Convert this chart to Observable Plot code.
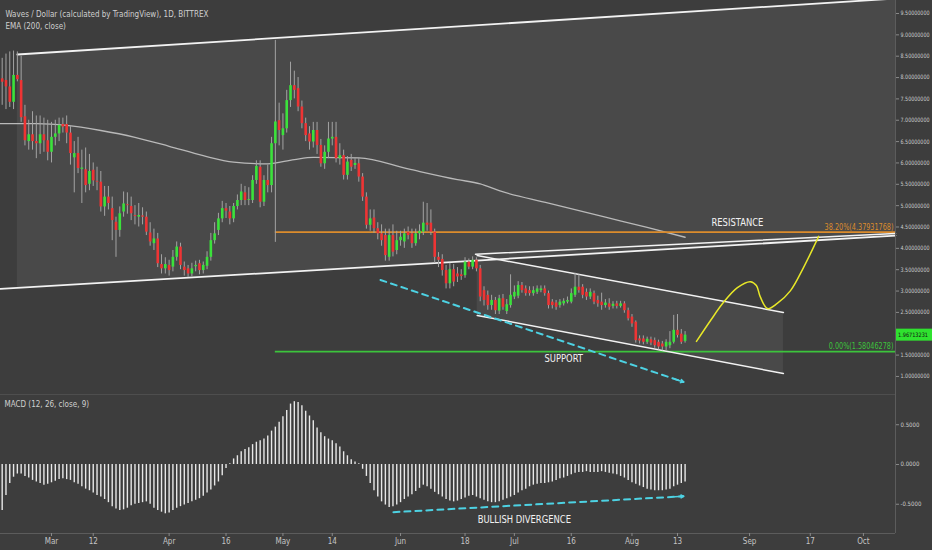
<!DOCTYPE html>
<html><head><meta charset="utf-8">
<script src="https://cdn.jsdelivr.net/npm/d3@7"></script>
<script src="https://cdn.jsdelivr.net/npm/@observablehq/plot@0.6"></script>
<style>
html,body{margin:0;padding:0;background:#3d3d3d;}
#chart{width:932px;height:550px;overflow:hidden;}
#chart svg{display:block;}
</style></head><body><div id="chart"></div>
<script>
// ---------- data ----------
const startDate = "2018-02-16";
const open = [7.97,7.93,7.78,7.42,8.05,7.93,7.08,6.50,6.66,6.50,6.45,6.66,6.52,
 6.25,6.60,6.68,6.90,6.90,6.70,6.12,6.22,5.85,5.84,5.50,5.83,5.57,5.55,4.97,5.20,4.93,4.61,4.42,4.85,5.02,4.98,4.77,4.73,4.76,4.73,4.36,4.11,4.22,3.62,3.52,
 3.60,3.56,3.79,4.03,3.56,3.52,3.40,3.57,3.64,3.48,3.58,3.79,4.18,4.42,4.69,4.93,4.85,4.69,4.98,5.12,5.30,5.12,5.12,5.59,5.90,5.08,5.59,5.47,6.45,6.99,
 6.64,6.80,7.46,7.81,7.74,7.31,6.92,6.68,6.49,6.76,6.41,5.98,6.25,6.56,6.60,6.10,6.17,5.71,6.06,5.94,5.98,5.67,5.20,4.54,4.71,4.46,4.34,4.30,3.79,4.30,3.95,
 4.18,4.15,4.38,4.34,4.11,4.34,4.38,4.59,4.59,4.38,3.79,3.74,3.48,3.17,3.50,3.40,3.38,3.36,3.68,3.56,3.72,3.52,3.01,2.90,2.66,2.78,2.53,2.82,2.52,2.66,
 2.86,2.88,3.13,3.05,3.01,2.94,2.97,3.01,3.05,2.94,2.74,2.72,2.66,2.70,2.74,2.74,2.90,3.09,3.09,2.97,2.86,2.94,2.78,2.74,2.66,2.70,2.64,2.70,2.64,2.70,2.54,
 2.39,2.27,1.88,1.88,1.80,1.86,1.84,1.80,1.76,1.69,1.72,1.80,2.08,1.99,1.82];
const high = [8.45,8.55,8.60,8.62,8.60,8.50,7.35,7.00,7.20,7.10,7.10,7.05,7.00,
 6.95,7.00,7.05,7.05,7.10,6.85,6.50,6.60,6.30,6.35,6.20,6.00,5.90,5.80,5.45,5.45,5.20,4.73,4.97,5.32,5.30,5.20,5.00,5.05,4.95,4.85,4.60,4.45,4.35,3.85,3.78,
 3.72,3.95,4.15,4.12,3.68,3.60,3.65,3.70,3.72,3.68,3.92,4.35,4.60,4.82,5.10,5.05,4.98,5.05,5.25,5.50,5.45,5.42,5.70,6.05,6.05,5.70,5.95,6.60,8.87,7.40,
 7.15,7.70,8.36,8.15,8.00,7.45,7.05,6.85,6.95,6.95,6.55,6.40,6.95,6.95,6.95,6.45,6.30,6.15,6.20,6.10,6.10,5.75,5.30,4.90,4.90,4.60,4.55,4.45,4.45,4.55,4.40,
 4.40,4.45,4.50,4.45,4.45,4.55,5.08,5.05,4.90,4.45,3.90,3.85,3.60,3.65,3.62,3.55,3.50,3.78,3.75,3.80,3.78,3.60,3.10,3.00,2.90,2.85,2.90,2.92,2.80,3.38,
 3.12,3.22,3.20,3.12,3.10,3.10,3.12,3.12,3.12,3.00,2.80,2.78,2.80,2.82,2.86,3.05,3.42,3.38,3.15,3.05,3.05,3.00,2.88,2.95,2.80,2.82,2.75,2.76,2.76,2.75,2.60,
 2.45,2.30,1.95,1.95,1.92,1.92,1.90,1.85,1.82,1.86,2.05,2.43,2.45,2.10,2.05];
const low = [7.35,7.25,7.30,7.25,7.90,6.95,6.40,6.30,6.30,6.10,6.20,6.25,6.05,
 6.00,6.40,6.50,6.70,6.45,5.95,5.30,5.75,5.05,5.30,5.35,5.45,5.35,4.85,4.75,4.90,4.18,3.79,4.26,4.73,4.80,4.65,4.55,4.50,4.55,4.30,4.05,3.95,3.55,3.40,3.40,
 3.35,3.45,3.70,3.50,3.35,3.32,3.33,3.45,3.38,3.40,3.50,3.70,4.10,4.30,4.60,4.70,4.55,4.60,4.90,5.00,5.00,5.00,5.05,5.50,4.95,4.98,5.30,5.30,4.14,6.40,
 6.30,6.70,7.30,7.50,7.20,6.80,6.50,6.30,6.35,6.20,5.90,5.85,6.10,6.40,6.00,5.95,5.60,5.60,5.80,5.85,5.55,5.10,4.45,4.40,4.35,4.20,4.05,3.70,3.70,3.80,3.85,
 4.05,4.00,4.20,4.00,4.05,4.20,4.30,4.40,4.30,3.65,3.55,3.35,3.05,3.05,3.10,3.20,3.25,3.30,3.50,3.50,3.45,2.75,2.65,2.55,2.55,2.45,2.45,2.55,2.45,2.60,
 2.80,2.82,2.95,2.88,2.88,2.88,2.92,2.96,2.88,2.58,2.58,2.55,2.60,2.65,2.70,2.70,2.85,2.95,2.82,2.78,2.80,2.68,2.62,2.55,2.60,2.55,2.58,2.58,2.60,2.48,2.30,
 2.15,1.78,1.76,1.74,1.75,1.72,1.66,1.62,1.60,1.60,1.65,1.76,1.90,1.75,1.78];
const close = [7.89,7.78,7.42,8.05,7.95,7.06,6.52,6.66,6.50,6.45,6.66,6.52,6.25,
 6.60,6.68,6.88,6.84,6.70,6.22,6.22,5.87,5.88,5.47,5.80,5.58,5.55,4.97,5.20,5.05,4.65,4.42,4.81,5.04,5.00,4.81,4.75,4.77,4.73,4.38,4.15,4.22,3.64,3.52,3.62,
 3.48,3.79,4.03,3.60,3.48,3.40,3.52,3.60,3.48,3.60,3.79,4.18,4.34,4.69,4.93,4.87,4.69,4.98,5.12,5.32,5.12,5.14,5.59,5.92,5.08,5.59,5.47,6.45,6.96,6.76,
 6.80,7.46,7.81,7.70,7.31,6.92,6.64,6.49,6.76,6.41,5.98,6.25,6.56,6.60,6.10,6.17,5.71,6.02,5.90,5.99,5.67,5.20,4.54,4.69,4.46,4.34,4.18,3.83,4.30,3.91,4.18,
 4.26,4.34,4.30,4.11,4.34,4.40,4.59,4.54,4.38,3.79,3.72,3.48,3.17,3.50,3.21,3.33,3.34,3.68,3.56,3.72,3.52,2.86,2.78,2.66,2.78,2.54,2.82,2.62,2.68,2.90,
 2.97,3.13,3.01,2.94,2.94,3.01,3.05,3.05,2.94,2.66,2.66,2.62,2.74,2.76,2.78,2.94,3.09,3.01,2.90,2.86,2.97,2.74,2.70,2.66,2.72,2.62,2.69,2.64,2.70,2.54,2.35,
 2.23,1.84,1.83,1.80,1.87,1.78,1.72,1.69,1.69,1.80,1.80,2.08,1.96,1.80,1.96713231];
const lastPriceLabel = "1.96713231";

const macdHist = [-0.58,-0.39,-0.24,-0.16,-0.12,-0.12,-0.15,-0.17,-0.20,-0.22,-0.24,-0.26,-0.25,-0.23,-0.21,-0.19,-0.18,-0.19,-0.20,-0.23,
 -0.25,-0.28,-0.31,-0.33,-0.36,-0.39,-0.41,-0.44,-0.48,-0.53,-0.56,-0.58,-0.57,-0.55,-0.52,-0.50,-0.49,-0.48,-0.47,-0.50,
 -0.55,-0.58,-0.60,-0.62,-0.61,-0.58,-0.55,-0.53,-0.51,-0.49,-0.47,-0.45,-0.43,-0.40,-0.36,-0.32,-0.27,-0.22,-0.14,-0.05,
 0.01,0.07,0.11,0.16,0.19,0.21,0.25,0.28,0.30,0.32,0.36,0.42,0.47,0.53,0.60,0.68,0.76,0.79,0.78,0.74,
 0.67,0.61,0.55,0.46,0.40,0.35,0.32,0.30,0.26,0.22,0.16,0.11,0.06,0.03,0.01,-0.06,-0.15,-0.24,-0.33,-0.41,
 -0.47,-0.51,-0.54,-0.53,-0.51,-0.48,-0.44,-0.41,-0.38,-0.34,-0.30,-0.26,-0.28,-0.31,-0.35,-0.38,-0.41,-0.44,-0.46,-0.47,
 -0.46,-0.44,-0.42,-0.40,-0.39,-0.41,-0.43,-0.45,-0.47,-0.48,-0.48,-0.47,-0.45,-0.43,-0.41,-0.39,-0.36,-0.33,-0.31,-0.28,
 -0.26,-0.25,-0.24,-0.24,-0.23,-0.22,-0.20,-0.18,-0.17,-0.15,-0.13,-0.11,-0.10,-0.10,-0.09,-0.10,-0.10,-0.10,-0.09,-0.10,
 -0.11,-0.12,-0.13,-0.15,-0.17,-0.20,-0.23,-0.25,-0.27,-0.29,-0.31,-0.32,-0.33,-0.33,-0.33,-0.32,-0.31,-0.28,-0.26,-0.24,-0.22];

const emaDates = ["2018-02-15","2018-02-25","2018-03-05","2018-03-14","2018-03-23","2018-04-01","2018-04-10","2018-04-18","2018-04-27","2018-05-04","2018-05-09","2018-05-21","2018-06-03","2018-06-16","2018-06-22","2018-06-27","2018-07-10","2018-07-25","2018-08-05","2018-08-15"];
const emaValues = [6.92,6.92,6.88,6.76,6.60,6.39,6.17,6.02,5.98,6.08,6.13,6.12,5.86,5.61,5.51,5.35,5.06,4.73,4.49,4.26];

const priceTicks = [1.0,1.5,2.5,3.0,3.5,4.0,4.5,5.0,5.5,6.0,6.5,7.0,7.5,8.0,8.5,9.0,9.5];
const macdTicks = [-0.5,0,0.5];
const timeTicks = ["2018-03-01","2018-03-12","2018-04-01","2018-04-16","2018-05-01","2018-05-14","2018-06-01","2018-06-18","2018-07-01","2018-07-16","2018-08-01","2018-08-13","2018-09-01","2018-09-17","2018-10-01"];
const timeLabels = ["Mar","12","Apr","16","May","14","Jun","18","Jul","16","Aug","13","Sep","17","Oct"];

const channelTop = [{date:"2018-02-20",price:8.54},{date:"2018-10-09T11:00",price:9.85}];
const channelBottom = [{date:"2018-02-15T13:23",price:3.05},{date:"2018-10-09T11:00",price:4.30}];
const channelInner = [{date:"2018-06-20T18:00",price:3.86},{date:"2018-10-09T11:00",price:4.35}];
const channelFill = [{date:"2018-02-20",lower:3.07,upper:8.54},{date:"2018-10-09T11:00",lower:4.30,upper:9.85}];
const descUpper = [{date:"2018-06-21T05:00",price:3.83},{date:"2018-09-09T22:00",price:2.50}];
const descLower = [{date:"2018-06-21T05:00",price:2.43},{date:"2018-09-09T22:00",price:1.07}];
const descFill = [{date:"2018-06-21T05:00",lower:2.43,upper:3.83},{date:"2018-09-09T22:00",lower:1.07,upper:2.50}];
const fibStart = "2018-04-29";
const fibEnd = "2018-10-09T11:00";
const fibPrices = [4.37931768, 1.58046278];
const fibLabels = ["38.20%(4.37931768)", "0.00%(1.58046278)"];
const cyanPrice = [{date:"2018-05-26T17:00",price:3.26},{date:"2018-08-14T14:00",price:0.87}];
const cyanMacd = [{date:"2018-05-30T03:00",value:-0.60},{date:"2018-08-14T14:00",value:-0.40}];
const yellowPath = [
 {date:"2018-08-18T00:00",price:1.82},{date:"2018-08-21T17:00",price:2.31},{date:"2018-08-25T02:00",price:2.73},
 {date:"2018-08-28T19:00",price:3.08},{date:"2018-09-01T05:00",price:3.22},{date:"2018-09-02T19:00",price:3.13},
 {date:"2018-09-03T19:00",price:2.87},{date:"2018-09-05T17:00",price:2.59},{date:"2018-09-08T07:00",price:2.71},
 {date:"2018-09-11T19:00",price:3.01},{date:"2018-09-15T05:00",price:3.55},{date:"2018-09-19T05:00",price:4.28}];
const notes = [{text:"RESISTANCE",date:"2018-08-28T19:00",price:4.61},{text:"SUPPORT",date:"2018-07-14T00:00",price:1.42}];
const macdNotes = [{text:"BULLISH DIVERGENCE",date:"2018-07-03T15:00",value:-0.69}];
const legendMain = "Waves / Dollar (calculated by TradingView), 1D, BITTREX\nEMA (200, close)";
const legendMacd = "MACD (12, 26, close, 9)";

// ---------- build ----------
const D = s => new Date(s.length === 10 ? s + "T00:00Z" : s + "Z");
const xDomain = [D("2018-02-15T13:23"), D("2018-10-09T11:00")];
const FONT = '"Liberation Sans Narrow","DejaVu Sans Condensed","Arial Narrow","DejaVu Sans",sans-serif';
const GREEN = "#3be23b", RED = "#ee3434", WICK = "#a3a3a3", CYAN = "#4dd2e3";
const FILL = "#494949";

const candles = open.map((o, i) => ({date: d3.utcDay.offset(D(startDate), i), o, h: high[i], l: low[i], c: close[i]}));
const macd = macdHist.map((v, i) => ({date: d3.utcDay.offset(D(startDate), i), v}));
const ema = emaDates.map((d, i) => ({date: D(d), price: emaValues[i]}));
const P = arr => arr.map(d => ({...d, date: D(d.date)}));
const fib = fibPrices.map((p, i) => ({price: p, label: fibLabels[i], x1: D(fibStart), x2: D(fibEnd)}));
const FIBCOL = ["#dc8c2c", "#3cc43c"];
function arrowHead(pts, key) {
  const a = pts[0], b = pts[pts.length - 1];
  const t = 0.97;
  return [{x1: new Date(+a.date + (b.date - a.date) * t), y1: a[key] + (b[key] - a[key]) * t, x2: b.date, y2: b[key]}];
}
const cyanP = P(cyanPrice), cyanM = P(cyanMacd);

const main = Plot.plot({
  width: 932, height: 394,
  marginTop: 0, marginBottom: 0, marginLeft: 0, marginRight: 37,
  x: {type: "utc", domain: xDomain, axis: null},
  y: {domain: [0.5773, 9.8044]},
  color: {type: "ordinal", domain: [0, 1], range: FIBCOL},
  style: {background: "transparent", color: "#c4c4c4", fontFamily: FONT, fontSize: "7px", overflow: "visible"},
  marks: [
    Plot.areaY(P(channelFill), {x: "date", y1: "lower", y2: "upper", fill: FILL}),
    Plot.areaY(P(descFill), {x: "date", y1: "lower", y2: "upper", fill: FILL}),
    Plot.line(ema, {x: "date", y: "price", stroke: "#b9b9b9", strokeWidth: 1.3, curve: "monotone-x"}),
    Plot.ruleY(fib, {y: "price", x1: "x1", x2: "x2", stroke: (d, i) => i, strokeWidth: 1.6}),
    Plot.line(P(channelTop), {x: "date", y: "price", stroke: "#f2f2f2", strokeWidth: 1.8, clip: true}),
    Plot.line(P(channelBottom), {x: "date", y: "price", stroke: "#f2f2f2", strokeWidth: 1.8}),
    Plot.line(P(channelInner), {x: "date", y: "price", stroke: "#f2f2f2", strokeWidth: 1.5}),
    Plot.line(P(descUpper), {x: "date", y: "price", stroke: "#f2f2f2", strokeWidth: 1.5}),
    Plot.line(P(descLower), {x: "date", y: "price", stroke: "#f2f2f2", strokeWidth: 1.5}),
    Plot.ruleX(candles, {x: "date", y1: "l", y2: "h", stroke: WICK, strokeWidth: 1}),
    Plot.ruleX(candles.filter(d => d.c >= d.o), {x: "date", y1: "o", y2: "c", stroke: GREEN, strokeWidth: 2.6}),
    Plot.ruleX(candles.filter(d => d.c < d.o), {x: "date", y1: "o", y2: "c", stroke: RED, strokeWidth: 2.6}),
    Plot.line(cyanP, {x: "date", y: "price", stroke: CYAN, strokeWidth: 2, strokeDasharray: "6,5"}),
    Plot.arrow(arrowHead(cyanP, "price"), {x1: "x1", y1: "y1", x2: "x2", y2: "y2", stroke: CYAN, strokeWidth: 1.5, headLength: 9}),
    Plot.line(P(yellowPath), {x: "date", y: "price", stroke: "#e8e828", strokeWidth: 1.5, curve: "catmull-rom"}),
    Plot.text(P(notes), {x: "date", y: "price", text: "text", fill: "#f2f2f2", fontSize: 11}),
    Plot.text(fib, {x: "x2", y: "price", text: "label", textAnchor: "end", dx: -2, dy: -5, fill: (d, i) => i, fontSize: 8}),
    Plot.text([legendMain], {frameAnchor: "top-left", dx: 5, dy: 7, lineAnchor: "top", lineHeight: 1.6, fill: "#cfcfcf", fontSize: 8}),
    Plot.ruleX([xDomain[1]], {stroke: "#5c5c5c"}),
    Plot.axisY(priceTicks, {anchor: "right", tickFormat: d => d.toFixed(8), tickSize: 3, tickPadding: 2, stroke: "#8a8a8a", fill: "#cccccc", fontSize: 6, label: null})
  ]
});

const macdPlot = Plot.plot({
  width: 932, height: 156,
  marginTop: 0, marginBottom: 17, marginLeft: 0, marginRight: 37,
  x: {type: "utc", domain: xDomain},
  y: {domain: [-0.868, 0.8805]},
  style: {background: "transparent", color: "#c4c4c4", fontFamily: FONT, fontSize: "7px", overflow: "visible"},
  marks: [
    Plot.ruleY([0.8805], {stroke: "#4e4e4e"}),
    Plot.ruleY([-0.868], {stroke: "#5c5c5c"}),
    Plot.ruleX([xDomain[1]], {stroke: "#5c5c5c"}),
    Plot.ruleX(macd, {x: "date", y1: 0, y2: "v", stroke: "#e8e8e8", strokeWidth: 1.4}),
    Plot.line(cyanM, {x: "date", y: "value", stroke: CYAN, strokeWidth: 2, strokeDasharray: "6,5"}),
    Plot.arrow(arrowHead(cyanM, "value"), {x1: "x1", y1: "y1", x2: "x2", y2: "y2", stroke: CYAN, strokeWidth: 1.5, headLength: 9}),
    Plot.text(P(macdNotes), {x: "date", y: "value", text: "text", fill: "#f2f2f2", fontSize: 11}),
    Plot.text([legendMacd], {frameAnchor: "top-left", dx: 4, dy: 7, lineAnchor: "top", fill: "#cfcfcf", fontSize: 8}),
    Plot.axisY(macdTicks, {anchor: "right", tickFormat: d => d.toFixed(4), tickSize: 3, tickPadding: 2, stroke: "#8a8a8a", fill: "#cccccc", fontSize: 6, label: null}),
    Plot.axisX(timeTicks.map(D), {anchor: "bottom", tickFormat: (d, i) => timeLabels[i], tickSize: 3, tickPadding: 2, stroke: "#8a8a8a", fill: "#c4c4c4", fontSize: 8, label: null})
  ]
});

// current price tag on the right axis (positioned with the plot's own y scale)
const yPix = main.scale("y").apply(close[close.length - 1]);
const xRight = main.scale("x").apply(xDomain[1]);
const tag = d3.select(main).append("g").attr("text-anchor", "start");
tag.append("rect").attr("x", xRight + 1).attr("y", yPix - 6).attr("width", 36).attr("height", 12).attr("fill", "#2fe22f");
tag.append("text").attr("class", "tagtext").attr("x", xRight + 3).attr("y", yPix).attr("dy", "0.35em").attr("fill", "#111").attr("font-size", 6).text(lastPriceLabel);

document.getElementById("chart").append(main, macdPlot);

// emulate the narrow TradingView font: keep texts within their room after layout
function fitWidth(nodes, maxW) {
  nodes.forEach(el => {
    const w = el.getComputedTextLength();
    if (w > maxW) { el.setAttribute("textLength", maxW.toFixed(1)); el.setAttribute("lengthAdjust", "spacingAndGlyphs"); }
  });
}
function condense(nodes, f) {
  nodes.forEach(el => {
    const w = el.getComputedTextLength();
    if (w > 0) { el.setAttribute("textLength", (w * f).toFixed(1)); el.setAttribute("lengthAdjust", "spacingAndGlyphs"); }
  });
}
for (const svg of [main, macdPlot]) {
  fitWidth([...svg.querySelectorAll('g[aria-label="y-axis tick label"] text')], 29);
  svg.querySelectorAll('g[aria-label="text"]').forEach(g => {
    const fs = g.getAttribute("font-size");
    const texts = [...g.querySelectorAll("text")];
    if (fs === "11") condense(texts, 0.85);
    else if (g.getAttribute("text-anchor") === "end") condense(texts, 0.9);
  });
}
fitWidth([...main.querySelectorAll("text.tagtext")], 30);
</script></body></html>
